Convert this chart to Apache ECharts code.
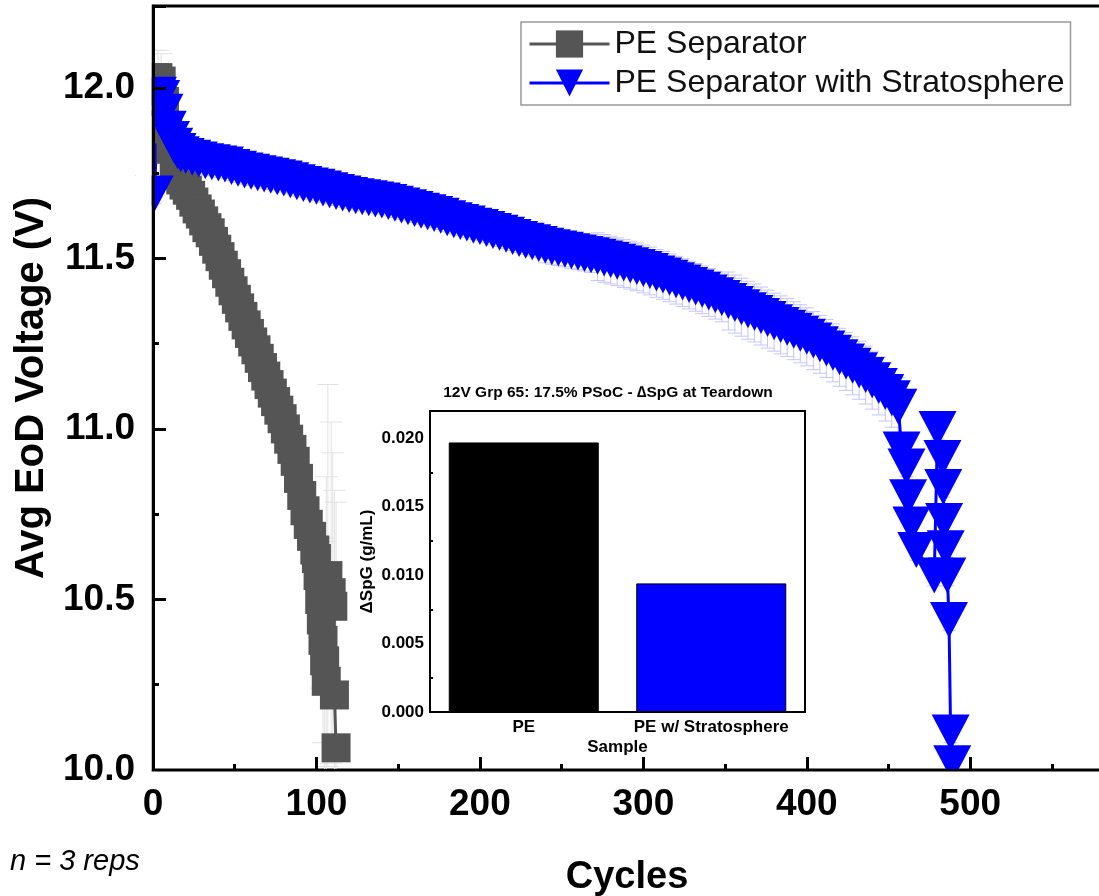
<!DOCTYPE html>
<html>
<head>
<meta charset="utf-8">
<title>Avg EoD Voltage vs Cycles</title>
<script src="https://cdn.jsdelivr.net/npm/echarts@6/dist/echarts.min.js"></script>
<style>
  html, body { margin: 0; padding: 0; background: #fff; }
  #chart { width: 1099px; height: 896px; }
</style>
</head>
<body>
<div id="chart"></div>
<script>
// PE separator: cycle, avg EoD voltage, error
const peCycles = [1, 3, 5, 7, 9, 11, 13, 15, 17, 19, 21, 23, 25, 27, 29, 31, 33, 35, 37, 39,
  41, 43, 45, 47, 49, 51, 53, 55, 57, 59, 61, 63, 65, 67, 69, 71, 73, 75, 77, 79,
  81, 83, 85, 87, 89, 91, 93, 95, 97, 99, 100, 101, 102, 103, 104, 105, 106, 107, 109, 110,
  111, 112]
const peVolts = [12.03, 12.03, 12.02, 11.96, 11.88, 11.82, 11.77, 11.745, 11.73, 11.715, 11.70, 11.685, 11.665, 11.645, 11.63, 11.61, 11.59, 11.575, 11.55, 11.527,
  11.505, 11.48, 11.455, 11.43, 11.405, 11.38, 11.355, 11.33, 11.305, 11.28, 11.255, 11.232, 11.207, 11.18, 11.155, 11.13, 11.105, 11.08, 11.055, 11.03,
  11.0, 10.97, 10.94, 10.905, 10.855, 10.805, 10.76, 10.72, 10.685, 10.645, 10.62, 10.57, 10.50, 10.44, 10.38, 10.32, 10.26, 10.57, 10.52, 10.48,
  10.22, 10.065]
const peErr = [0.08, 0.08, 0.08, 0.08, 0.05, 0.04, 0.04, 0.04, 0.04, 0.04, 0.04, 0.04, 0.04, 0.04, 0.04, 0.04, 0.04, 0.04, 0.04, 0.04,
  0.04, 0.04, 0.04, 0.04, 0.04, 0.04, 0.04, 0.04, 0.04, 0.04, 0.04, 0.04, 0.04, 0.04, 0.04, 0.04, 0.04, 0.04, 0.04, 0.04,
  0.04, 0.04, 0.04, 0.05, 0.05, 0.05, 0.05, 0.06, 0.08, 0.08, 0.08, 0.08, 0.12, 0.2, 0.3, 0.35, 0.6, 0.56, 0.5, 0.45,
  0.6, 0.72]

// PE separator with Stratosphere
const stratoCycles = [1, 3, 5, 7, 9, 11, 13, 15, 17, 20,
  24, 28, 32, 36, 40, 44, 48, 52, 56, 60, 64, 68, 72, 76, 80, 84, 88, 92, 96, 100,
  104, 108, 112, 116, 120, 124, 128, 132, 136, 140, 144, 148, 152, 156, 160, 164, 168, 172, 176, 180,
  184, 188, 192, 196, 200, 204, 208, 212, 216, 220, 224, 228, 232, 236, 240, 244, 248, 252, 256, 260,
  264, 268, 272, 276, 280, 284, 288, 292, 296, 300, 304, 308, 312, 316, 320, 324, 328, 332, 336, 340,
  344, 348, 352, 356, 360, 364, 368, 372, 376, 380, 384, 388, 392, 396, 400, 404, 408, 412, 416, 420,
  424, 428, 432, 436, 440, 444, 448, 452, 456,
  458, 461, 462, 464, 467, 478, 480, 483, 483.5, 484, 485, 486, 487, 488, 489]
const stratoVolts = [11.69, 11.98, 11.97, 11.93, 11.88, 11.85, 11.83, 11.815, 11.805, 11.80,
  11.795, 11.79, 11.785, 11.782, 11.778, 11.775, 11.768, 11.763, 11.758, 11.754, 11.75, 11.746, 11.742, 11.738, 11.734, 11.729, 11.723, 11.718, 11.714, 11.71,
  11.705, 11.70, 11.695, 11.69, 11.686, 11.682, 11.679, 11.676, 11.673, 11.67, 11.665, 11.66, 11.655, 11.65, 11.645, 11.64, 11.635, 11.63, 11.625, 11.618,
  11.612, 11.607, 11.602, 11.596, 11.592, 11.586, 11.58, 11.575, 11.569, 11.563, 11.557, 11.552, 11.547, 11.542, 11.537, 11.533, 11.529, 11.525, 11.521, 11.517,
  11.513, 11.509, 11.505, 11.50, 11.495, 11.49, 11.485, 11.48, 11.475, 11.469, 11.463, 11.456, 11.45, 11.443, 11.436, 11.429, 11.422, 11.415, 11.408, 11.40,
  11.392, 11.384, 11.375, 11.366, 11.357, 11.348, 11.34, 11.331, 11.322, 11.313, 11.305, 11.297, 11.288, 11.279, 11.27, 11.259, 11.248, 11.236, 11.223, 11.21,
  11.198, 11.185, 11.172, 11.158, 11.143, 11.126, 11.108, 11.09, 11.065,
  10.94, 10.89, 10.80, 10.72, 10.645, 10.57, 11.00, 10.915, 10.83, 10.73, 10.65, 10.57, 10.44, 10.11, 10.02]
const stratoErr = [0.03, 0.03, 0.03, 0.03, 0.03, 0.03, 0.03, 0.03, 0.03, 0.03,
  0.04, 0.04, 0.04, 0.04, 0.04, 0.04, 0.04, 0.04, 0.04, 0.04, 0.04, 0.04, 0.04, 0.04, 0.04, 0.04, 0.04, 0.04, 0.04, 0.04,
  0.04, 0.04, 0.04, 0.04, 0.04, 0.04, 0.04, 0.04, 0.04, 0.04, 0.04, 0.04, 0.04, 0.04, 0.04, 0.04, 0.04, 0.04, 0.04, 0.04,
  0.04, 0.04, 0.04, 0.04, 0.04, 0.04, 0.04, 0.04, 0.04, 0.04, 0.04, 0.04, 0.04, 0.04, 0.05, 0.05, 0.05, 0.05, 0.05, 0.05,
  0.05, 0.05, 0.07, 0.07, 0.07, 0.07, 0.07, 0.07, 0.07, 0.07, 0.07, 0.07, 0.07, 0.07, 0.07, 0.07, 0.07, 0.07, 0.07, 0.07,
  0.07, 0.07, 0.085, 0.085, 0.085, 0.085, 0.085, 0.085, 0.085, 0.085, 0.085, 0.085, 0.085, 0.085, 0.085, 0.085, 0.085, 0.085, 0.085, 0.085,
  0.085, 0.085, 0.085, 0.085, 0.085, 0.085, 0.085, 0.085, 0.085,
  0.03, 0.03, 0.03, 0.03, 0.03, 0.03, 0.03, 0.03, 0.03, 0.03, 0.03, 0.03, 0.03, 0.03, 0.03]

// inset: SpG change at teardown
const insetSamples = ['PE', 'PE w/ Stratosphere']
const insetDeltaSpG = [0.0197, 0.0094]
const insetColors = ['#000000', '#0000ff']

const yTicks = [10.0, 10.5, 11.0, 11.5, 12.0]

const FONT = '"Liberation Sans", Arial, sans-serif'

function zip (xs, ys, es) {
  return xs.map((x, i) => [x, ys[i], es[i]])
}

function errorBars (color, capW) {
  return function (params, api) {
    const x = api.value(0)
    const v = api.value(1)
    const e = api.value(2)
    const hi = api.coord([x, v + e])
    const lo = api.coord([x, v - e])
    const style = { stroke: color, lineWidth: 1 }
    return {
      type: 'group',
      children: [
        { type: 'line', shape: { x1: hi[0], y1: hi[1], x2: lo[0], y2: lo[1] }, style },
        { type: 'line', shape: { x1: hi[0] - capW / 2, y1: hi[1], x2: hi[0] + capW / 2, y2: hi[1] }, style },
        { type: 'line', shape: { x1: lo[0] - capW / 2, y1: lo[1], x2: lo[0] + capW / 2, y2: lo[1] }, style }
      ]
    }
  }
}

const peData = zip(peCycles, peVolts, peErr)
const stratoData = zip(stratoCycles, stratoVolts, stratoErr)

const chart = echarts.init(document.getElementById('chart'), null, { renderer: 'canvas' })

const option = {
  animation: false,
  backgroundColor: '#fff',
  textStyle: { fontFamily: FONT },
  grid: [
    { left: 153, top: 6, right: -2, bottom: 126, outerBoundsMode: 'none', show: true, borderColor: '#000', borderWidth: 3 },
    { left: 430, top: 411, right: 294, bottom: 184, outerBoundsMode: 'none', show: true, borderColor: '#000', borderWidth: 2, backgroundColor: '#fff', z: 5 }
  ],
  legend: {
    data: ['PE Separator', 'PE Separator with Stratosphere'],
    orient: 'vertical',
    left: 521,
    top: 22,
    itemWidth: 80,
    itemHeight: 34,
    itemGap: 7,
    padding: [6, 6, 6, 7],
    borderColor: '#999',
    borderWidth: 1.5,
    backgroundColor: '#fff',
    lineStyle: { width: 3 },
    textStyle: { fontFamily: FONT, fontSize: 32, color: '#111' }
  },
  xAxis: [
    {
      type: 'value',
      gridIndex: 0,
      z: 4,
      min: 0,
      max: 580,
      interval: 100,
      name: 'Cycles',
      nameLocation: 'middle',
      nameGap: 89,
      nameTextStyle: { fontFamily: FONT, fontSize: 38, fontWeight: 'bold', color: '#000' },
      axisLine: { lineStyle: { color: '#000', width: 3 } },
      axisTick: { inside: true, length: 13, lineStyle: { color: '#000', width: 3 } },
      minorTick: { show: true, splitNumber: 2, length: 6, lineStyle: { color: '#000', width: 3 } },
      axisLabel: { fontFamily: FONT, fontSize: 37, fontWeight: 'bold', color: '#000', margin: 16, showMaxLabel: false },
      splitLine: { show: false }
    },
    {
      type: 'category',
      gridIndex: 1,
      z: 7,
      data: insetSamples,
      name: 'Sample',
      nameLocation: 'middle',
      nameGap: 27,
      nameTextStyle: { fontFamily: FONT, fontSize: 17, fontWeight: 'bold', color: '#000' },
      axisLine: { lineStyle: { color: '#000', width: 2 } },
      axisTick: { inside: true, length: 3, lineStyle: { color: '#000', width: 2 } },
      axisLabel: { fontFamily: FONT, fontSize: 17, fontWeight: 'bold', color: '#000', margin: 7, interval: 0 }
    }
  ],
  yAxis: [
    {
      type: 'value',
      gridIndex: 0,
      z: 4,
      min: 10,
      max: 12.24,
      interval: 0.5,
      name: 'Avg EoD Voltage (V)',
      nameLocation: 'middle',
      nameGap: 101,
      nameTextStyle: { fontFamily: FONT, fontSize: 40, fontWeight: 'bold', color: '#000' },
      axisLine: { show: true, lineStyle: { color: '#000', width: 3 } },
      axisTick: { inside: true, length: 13, lineStyle: { color: '#000', width: 3 } },
      minorTick: { show: true, splitNumber: 2, length: 6, lineStyle: { color: '#000', width: 3 } },
      axisLabel: {
        fontFamily: FONT, fontSize: 37, fontWeight: 'bold', color: '#000', margin: 18,
        showMaxLabel: false,
        formatter: v => (yTicks.indexOf(v) >= 0 ? v.toFixed(1) : '')
      },
      splitLine: { show: false }
    },
    {
      type: 'value',
      gridIndex: 1,
      z: 7,
      min: 0,
      max: 0.022,
      interval: 0.005,
      name: 'ΔSpG (g/mL)',
      nameLocation: 'middle',
      nameGap: 54,
      nameTextStyle: { fontFamily: FONT, fontSize: 17, fontWeight: 'bold', color: '#000' },
      axisLine: { show: true, lineStyle: { color: '#000', width: 2 } },
      axisTick: { inside: true, length: 4, lineStyle: { color: '#000', width: 2 } },
      minorTick: { show: true, splitNumber: 2, length: 3, lineStyle: { color: '#000', width: 2 } },
      axisLabel: {
        fontFamily: FONT, fontSize: 17, fontWeight: 'bold', color: '#000', margin: 6,
        showMaxLabel: false,
        formatter: v => v.toFixed(3)
      },
      splitLine: { show: false }
    }
  ],
  graphic: {
    elements: [
      // masks so markers stop at the axes, like the plot they came from
      { type: 'rect', z: 50, silent: true, shape: { x: 136, y: 0, width: 15.5, height: 771 }, style: { fill: '#fff' } },
      { type: 'rect', z: 50, silent: true, shape: { x: 136, y: 771.5, width: 963, height: 13 }, style: { fill: '#fff' } },
      {
        type: 'text',
        x: 608,
        y: 393,
        z: 50,
        style: {
          text: '12V Grp 65: 17.5% PSoC - ∆SpG at Teardown',
          font: 'bold 15.5px ' + FONT,
          fill: '#000',
          align: 'center',
          verticalAlign: 'middle'
        }
      },
      {
        type: 'text',
        x: 10,
        y: 862,
        style: {
          text: 'n = 3 reps',
          font: 'italic 29px ' + FONT,
          fill: '#000',
          verticalAlign: 'middle'
        }
      }
    ]
  },
  series: [
    {
      type: 'custom',
      name: 'PE err',
      xAxisIndex: 0,
      yAxisIndex: 0,
      clip: true,
      renderItem: errorBars('#e2e2e2', 22),
      encode: { x: 0, y: 1 },
      data: peData,
      silent: true
    },
    {
      type: 'line',
      name: 'PE Separator',
      xAxisIndex: 0,
      yAxisIndex: 0,
      data: peData.map(d => [d[0], d[1]]),
      symbol: 'rect',
      symbolSize: 29,
      showAllSymbol: true,
      clip: true,
      lineStyle: { color: '#555555', width: 3 },
      itemStyle: { color: '#555555' }
    },
    {
      type: 'custom',
      name: 'Strato err',
      xAxisIndex: 0,
      yAxisIndex: 0,
      clip: true,
      renderItem: errorBars('#c4c4ff', 14),
      encode: { x: 0, y: 1 },
      data: stratoData,
      silent: true
    },
    {
      type: 'line',
      name: 'PE Separator with Stratosphere',
      xAxisIndex: 0,
      yAxisIndex: 0,
      data: stratoData.map(d => [d[0], d[1]]),
      symbol: 'triangle',
      symbolSize: [38, 36],
      symbolRotate: 180,
      showAllSymbol: true,
      clip: true,
      lineStyle: { color: '#0000ff', width: 3 },
      itemStyle: { color: '#0000ff' }
    },
    {
      type: 'bar',
      name: 'ΔSpG',
      xAxisIndex: 1,
      yAxisIndex: 1,
      barWidth: 150,
      z: 6,
      data: insetDeltaSpG.map((v, i) => ({
        value: v,
        itemStyle: { color: insetColors[i], borderColor: '#000', borderWidth: 1 }
      }))
    }
  ]
}

chart.setOption(option)
window.addEventListener('resize', () => chart.resize())
</script>
</body>
</html>
